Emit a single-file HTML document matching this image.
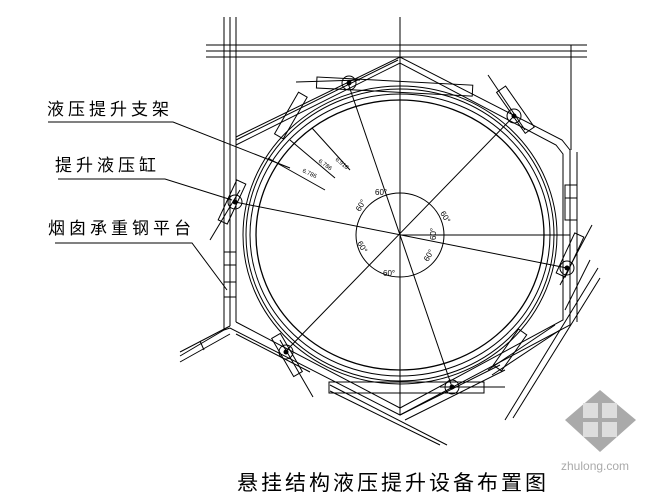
<!DOCTYPE html>
<html><head><meta charset="utf-8"><style>
html,body{margin:0;padding:0;background:#fff;width:660px;height:500px;overflow:hidden}
svg{display:block}
text{font-family:"Liberation Sans","Noto Sans CJK SC",sans-serif;fill:#000}
</style></head><body>
<svg width="660" height="500" viewBox="0 0 660 500" xmlns="http://www.w3.org/2000/svg">
<g stroke="#000" stroke-width="1" fill="none">
<line x1="224" y1="17" x2="224" y2="330"/>
<line x1="230" y1="17" x2="230" y2="326"/>
<line x1="236" y1="17" x2="236" y2="322"/>
<line x1="206" y1="45" x2="587" y2="45"/>
<line x1="206" y1="51" x2="587" y2="51"/>
<line x1="206" y1="57" x2="587" y2="57"/>
<line x1="571" y1="45" x2="571" y2="150"/>
<polyline points="236,137 400,57 562,140 570,150 570,325 400,415 230,328 224,330"/>
<polyline points="236,145 400,63 556,145 563,154 563,320 400,408 236,322"/>
<polyline points="577,152 577,322"/>
<line x1="236" y1="140" x2="398" y2="60"/>
<line x1="230" y1="326" x2="180" y2="352"/>
<line x1="224" y1="330" x2="180" y2="356"/>
<line x1="230" y1="334" x2="180" y2="362"/>
<line x1="200" y1="341" x2="204" y2="350"/>
<line x1="236" y1="334" x2="310" y2="372"/>
<line x1="330" y1="385" x2="447" y2="445"/>
<line x1="330" y1="391" x2="440" y2="445"/>
<line x1="400" y1="415" x2="500" y2="365"/>
<line x1="405" y1="420" x2="505" y2="370"/>
<line x1="505" y1="420" x2="598" y2="268"/>
<line x1="513" y1="418" x2="600" y2="278"/>
<line x1="488" y1="370" x2="555" y2="325"/>
<line x1="492" y1="375" x2="560" y2="330"/>
<line x1="565" y1="310" x2="590" y2="260"/>
<ellipse cx="400" cy="235" rx="157" ry="149"/>
<ellipse cx="400" cy="235" rx="154" ry="146"/>
<ellipse cx="400" cy="235" rx="150" ry="141"/>
<ellipse cx="400" cy="235" rx="144" ry="135" stroke-width="1.3"/>
<ellipse cx="400" cy="235" rx="44" ry="42"/>
<line x1="400" y1="17" x2="400" y2="415"/>
<line x1="400" y1="235" x2="570" y2="235"/>
<line x1="348" y1="83" x2="452" y2="387"/>
<line x1="235" y1="202" x2="567" y2="268"/>
<line x1="515" y1="115" x2="285" y2="352"/>
<line x1="312" y1="128" x2="350" y2="170"/>
<line x1="290" y1="140" x2="335" y2="178"/>
<line x1="268" y1="158" x2="325" y2="190"/>
<rect x="317" y="77" width="156" height="11" transform="rotate(3 317 77)"/>
<line x1="296" y1="82" x2="360" y2="80"/>
<rect x="329" y="382" width="155" height="11"/>
<line x1="440" y1="387" x2="505" y2="387"/>
<rect x="-4" y="-24" width="10" height="48" transform="translate(290 115) rotate(30)"/>
<rect x="-5" y="-25" width="11" height="50" transform="translate(515 110) rotate(-35)"/>
<line x1="488" y1="75" x2="525" y2="130"/>
<rect x="-5" y="-22" width="10" height="44" transform="translate(232 202) rotate(25)"/>
<line x1="210" y1="240" x2="240" y2="190"/>
<rect x="-5" y="-22" width="10" height="44" transform="translate(570 255) rotate(25)"/>
<line x1="592" y1="225" x2="560" y2="285"/>
<rect x="-5" y="-22" width="10" height="44" transform="translate(287 355) rotate(-30)"/>
<line x1="280" y1="340" x2="313" y2="397"/>
<rect x="-5" y="-22" width="10" height="44" transform="translate(510 350) rotate(35)"/>
<rect x="224" y="252" width="12" height="45"/>
<line x1="224" y1="265" x2="236" y2="265"/>
<line x1="224" y1="282" x2="236" y2="282"/>
<rect x="565" y="185" width="12" height="35"/>
<line x1="565" y1="198" x2="577" y2="198"/>
<circle cx="349" cy="83" r="7"/><circle cx="514" cy="116" r="7"/>
<circle cx="567" cy="268" r="7"/><circle cx="452" cy="387" r="7"/>
<circle cx="286" cy="352" r="7"/><circle cx="235" cy="202" r="7"/>
<polyline points="48,122 173,122 290,168"/>
<polyline points="58,179 165,179 232,200"/>
<polyline points="55,243 192,243 227,290"/>
</g>
<g fill="#000">
<circle cx="349" cy="83" r="2.5"/><circle cx="514" cy="116" r="2.5"/>
<circle cx="567" cy="268" r="2.5"/><circle cx="452" cy="387" r="2.5"/>
<circle cx="286" cy="352" r="2.5"/><circle cx="235" cy="202" r="2.5"/>
</g>
<g font-size="8">
<text x="375" y="195">60°</text>
<text x="360" y="212" transform="rotate(-60 360 212)">60°</text>
<text x="440" y="213" transform="rotate(60 440 213)">60°</text>
<text x="436" y="240" transform="rotate(-90 436 240)">60°</text>
<text x="357" y="243" transform="rotate(60 357 243)">60°</text>
<text x="428" y="262" transform="rotate(-60 428 262)">60°</text>
<text x="383" y="276">60°</text>
<text x="335" y="160" font-size="6" transform="rotate(40 335 160)">6.918</text>
<text x="318" y="162" font-size="6" transform="rotate(35 318 162)">6.786</text>
<text x="302" y="172" font-size="6" transform="rotate(25 302 172)">6.786</text>
</g>
<g font-size="17" letter-spacing="4">
<text x="47" y="115">液压提升支架</text>
<text x="55" y="171">提升液压缸</text>
<text x="48" y="234">烟囱承重钢平台</text>
</g>
<text x="237" y="490" font-size="21" letter-spacing="3">悬挂结构液压提升设备布置图</text>
<polygon points="600,390 636,420 600,452 565,420" fill="#aaa"/>
<g fill="#ddd"><rect x="583" y="403" width="15" height="15"/><rect x="602" y="403" width="15" height="15"/><rect x="583" y="422" width="15" height="15"/><rect x="602" y="422" width="15" height="15"/></g>
<text x="561" y="470" font-size="12" style="fill:#aaa">zhulong.com</text>
</svg>
</body></html>
